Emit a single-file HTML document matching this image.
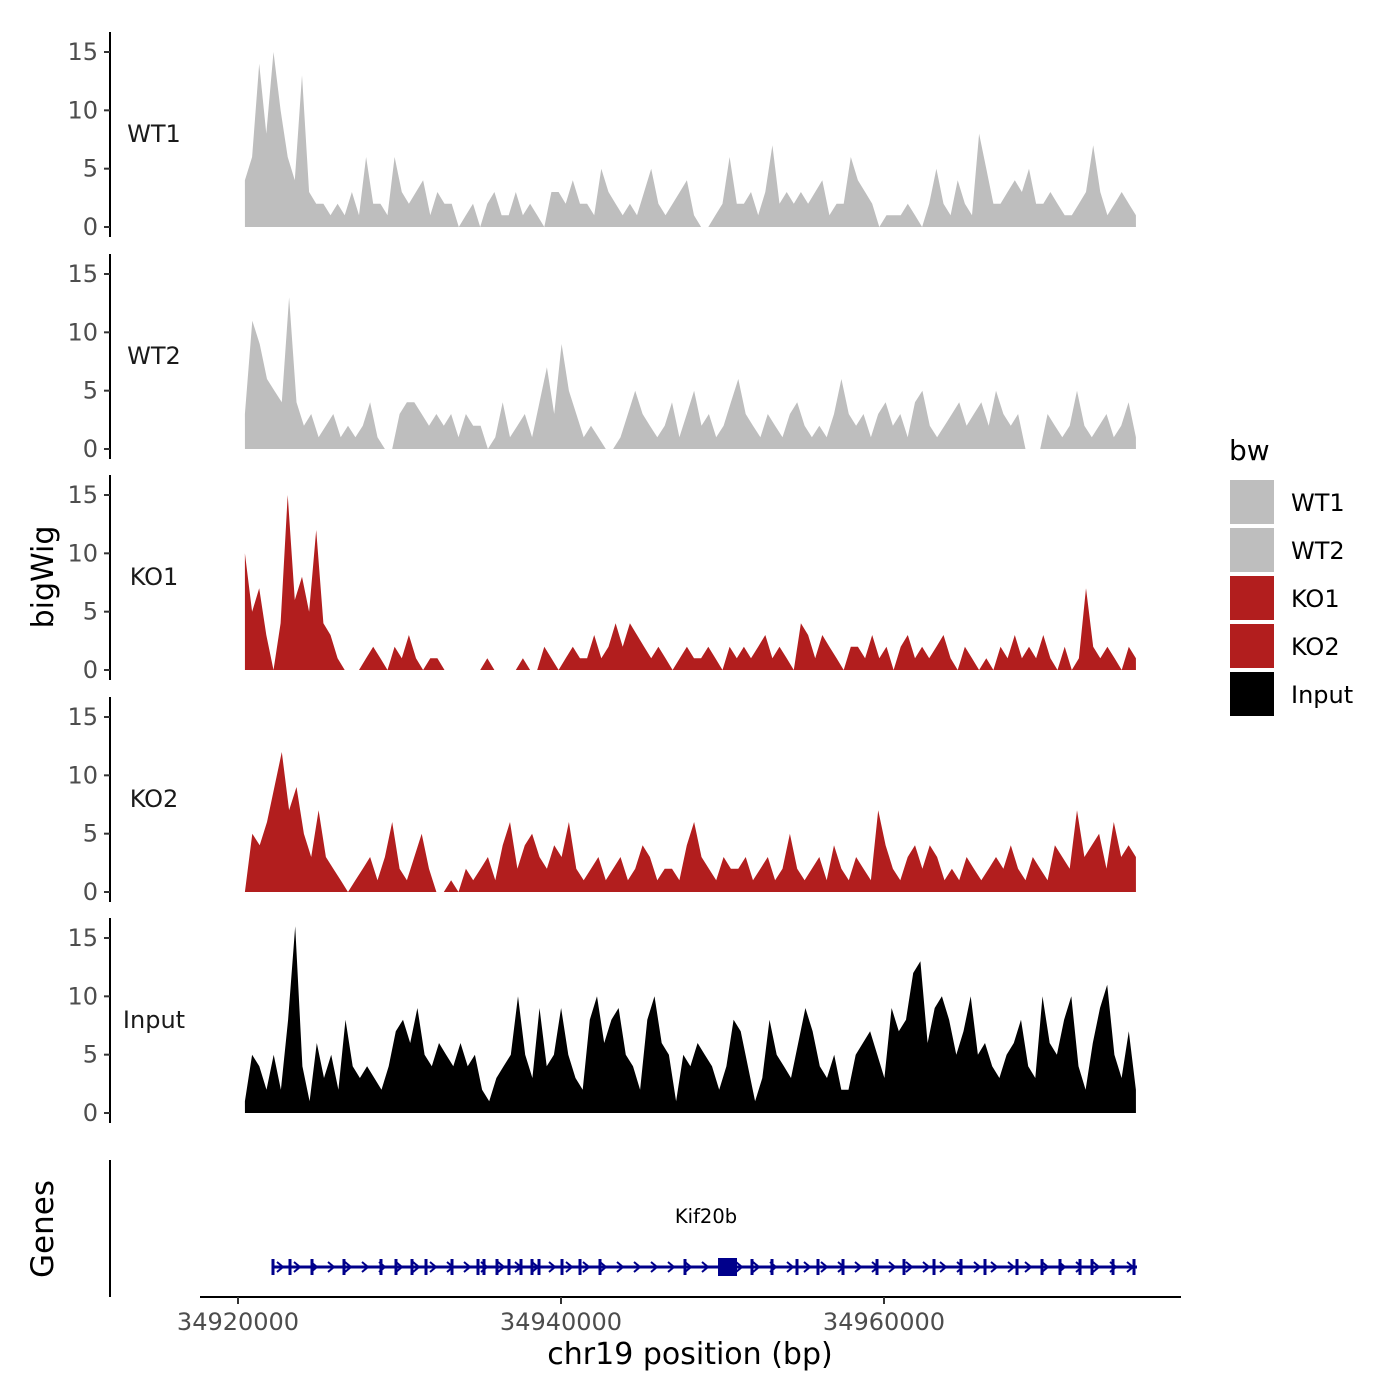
<!DOCTYPE html>
<html><head><meta charset="utf-8"><style>
body{margin:0;background:#fff;}
svg{display:block;font-family:"DejaVu Sans","Liberation Sans",sans-serif;}
</style></head><body>
<svg id="chart" width="1400" height="1400" viewBox="0 0 1400 1400">
<rect width="1400" height="1400" fill="#fff"/>
<g id="tracks"></g>
<g id="genes"></g>
<g id="xaxis"></g>
<text x="53" y="577" transform="rotate(-90 53 577)" text-anchor="middle" font-size="30" fill="#000">bigWig</text>
<text x="53" y="1229" transform="rotate(-90 53 1229)" text-anchor="middle" font-size="31" fill="#000">Genes</text>
<text x="690" y="1364" text-anchor="middle" font-size="30" fill="#000">chr19 position (bp)</text>
<g id="legend">
<text x="1229" y="460" font-size="28" fill="#000">bw</text>
</g>
</svg>
<script>
const trackNames = ["WT1","WT2","KO1","KO2","Input"];
const trackColors = ["#bebebe","#bebebe","#b21e1e","#b21e1e","#000000"];
const yTicks = [0,5,10,15];
const xTicks = [34920000,34940000,34960000];
const dataStart = 34920430, dataEnd = 34975600;
const wt1 = [4,6,14,8,15,10,6,4,13,3,2,2,1,2,1,3,1,6,2,2,1,6,3,2,3,4,1,3,2,2,0,1,2,0,2,3,1,1,3,1,2,1,0,3,3,2,4,2,2,1,5,3,2,1,2,1,3,5,2,1,2,3,4,1,0,0,1,2,6,2,2,3,1,3,7,2,3,2,3,2,3,4,1,2,2,6,4,3,2,0,1,1,1,2,1,0,2,5,2,1,4,2,1,8,5,2,2,3,4,3,5,2,2,3,2,1,1,2,3,7,3,1,2,3,2,1];
const wt2 = [3,11,9,6,5,4,13,4,2,3,1,2,3,1,2,1,2,4,1,0,0,3,4,4,3,2,3,2,3,1,3,2,2,0,1,4,1,2,3,1,4,7,3,9,5,3,1,2,1,0,0,1,3,5,3,2,1,2,4,1,3,5,2,3,1,2,4,6,3,2,1,3,2,1,3,4,2,1,2,1,3,6,3,2,3,1,3,4,2,3,1,4,5,2,1,2,3,4,2,3,4,2,5,3,2,3,0,0,0,3,2,1,2,5,2,1,2,3,1,2,4,1];
const ko1 = [10,5,7,3,0,4,15,6,8,5,12,4,3,1,0,0,0,1,2,1,0,2,1,3,1,0,1,1,0,0,0,0,0,0,1,0,0,0,0,1,0,0,2,1,0,1,2,1,1,3,1,2,4,2,4,3,2,1,2,1,0,1,2,1,1,2,1,0,2,1,2,1,2,3,1,2,1,0,4,3,1,3,2,1,0,2,2,1,3,1,2,0,2,3,1,2,1,2,3,1,0,2,1,0,1,0,2,1,3,1,2,1,3,1,0,2,0,1,7,2,1,2,1,0,2,1];
const ko2 = [0,5,4,6,9,12,7,9,5,3,7,3,2,1,0,1,2,3,1,3,6,2,1,3,5,2,0,0,1,0,2,1,2,3,1,4,6,2,4,5,3,2,4,3,6,2,1,2,3,1,2,3,1,2,4,3,1,2,2,1,4,6,3,2,1,3,2,2,3,1,2,3,1,2,5,2,1,2,3,1,4,2,1,3,2,1,7,4,2,1,3,4,2,4,3,1,2,1,3,2,1,2,3,2,4,2,1,3,2,1,4,3,2,7,3,4,5,2,6,3,4,3];
const input = [1,5,4,2,5,2,8,16,4,1,6,3,5,2,8,4,3,4,3,2,4,7,8,6,9,5,4,6,5,4,6,4,5,2,1,3,4,5,10,5,3,9,4,5,9,5,3,2,8,10,6,8,9,5,4,2,8,10,6,5,1,5,4,6,5,4,2,4,8,7,4,1,3,8,5,4,3,6,9,7,4,3,5,2,2,5,6,7,5,3,9,7,8,12,13,6,9,10,8,5,7,10,5,6,4,3,5,6,8,4,3,10,6,5,8,10,4,2,6,9,11,5,3,7,2];
const exons = [34922167,34923220,34924582,34926563,34928854,34929783,34930774,34931641,34933251,34934861,34935232,34936037,34936780,34937523,34938204,34938638,34940062,34941177,34942415,34947678,34951827,34953065,34954613,34955913,34957461,34959567,34961239,34963096,34964768,34966254,34968236,34969784,34970898,34972137,34972880,34974180,34975480];
const geneStart = 34922105, geneEnd = 34975665;
const bigExon = [34949722,34950898];
const geneName = "Kif20b";

const series = [wt1,wt2,ko1,ko2,input];
const NS="http://www.w3.org/2000/svg";
function mk(tag,attrs,parent){const e=document.createElementNS(NS,tag);for(const k in attrs)e.setAttribute(k,attrs[k]);parent.appendChild(e);return e;}
function xs(bp){return 238+(bp-34920000)*323/20000;}
const panelTop=[32,254,475,697,918], zeroY=[227,449,670,892,1113];
const unit=175/15;
const tracks=document.getElementById('tracks');
series.forEach((vals,t)=>{
  const g=mk('g',{},tracks);
  
  
  const y=v=>zeroY[t]-v*unit;
  const n=vals.length, step=(dataEnd-dataStart)/(n-1);
  let d='M'+xs(dataStart)+','+zeroY[t];
  vals.forEach((v,i)=>{d+=' L'+xs(dataStart+i*step).toFixed(1)+','+y(v).toFixed(1);});
  d+=' L'+xs(dataEnd)+','+zeroY[t]+' Z';
  const p=mk('path',{d:d,fill:trackColors[t]},g);
  
  
  const ax=mk('line',{x1:110,x2:110,y1:panelTop[t],y2:zeroY[t]+10,stroke:'#000','stroke-width':2},g);
  
  
  yTicks.forEach(v=>{
    const tk=mk('line',{x1:104,x2:110,y1:y(v),y2:y(v),stroke:'#333','stroke-width':2},g);
    
    
    const tl=mk('text',{x:98,y:y(v)+8,'text-anchor':'end','font-size':24,fill:'#4d4d4d'},g);
    tl.textContent=v;
    
    
  });
  const lb=mk('text',{x:154,y:zeroY[t]-85,'text-anchor':'middle','font-size':24,fill:'#1a1a1a'},g);
  lb.textContent=trackNames[t];
  
  
});
const gg=document.getElementById('genes');
const gax=mk('line',{x1:110,x2:110,y1:1160,y2:1297,stroke:'#000','stroke-width':2},gg);


const gy=1267;
const gl=mk('line',{x1:xs(geneStart),x2:xs(geneEnd),y1:gy,y2:gy,stroke:'#00008b','stroke-width':3},gg);


for(let x=xs(geneStart)+8;x<xs(geneEnd);x+=17){
  const a=mk('path',{d:`M${x-3},${gy-5} L${x+3},${gy} L${x-3},${gy+5}`,fill:'none',stroke:'#00008b','stroke-width':2},gg);
  
  
}
exons.forEach(b=>{
  const e=mk('rect',{x:xs(b)-1.5,y:gy-8,width:3,height:16,fill:'#00008b'},gg);
  
  
});
const be=mk('rect',{x:xs(bigExon[0]),y:gy-9,width:xs(bigExon[1])-xs(bigExon[0]),height:18,fill:'#00008b'},gg);


const gn=mk('text',{x:706,y:1223,'text-anchor':'middle','font-size':19.5,fill:'#000'},gg);
gn.textContent=geneName;


const xa=document.getElementById('xaxis');
const xl=mk('line',{x1:200,x2:1181,y1:1297,y2:1297,stroke:'#000','stroke-width':2},xa);


xTicks.forEach(v=>{
  const tk=mk('line',{x1:xs(v),x2:xs(v),y1:1297,y2:1304,stroke:'#333','stroke-width':2},xa);
  
  
  const tl=mk('text',{x:xs(v),y:1330,'text-anchor':'middle','font-size':24,fill:'#4d4d4d'},xa);
  tl.textContent=v;
  
  
});
const lg=document.getElementById('legend');
trackNames.forEach((n,i)=>{
  const y0=480+i*48;
  const r=mk('rect',{x:1230,y:y0,width:44,height:44,fill:trackColors[i]},lg);
  
  
  const t=mk('text',{x:1291,y:y0+31,'font-size':24,fill:'#000'},lg);
  t.textContent=n;
  
  
});
</script>
</body></html>
